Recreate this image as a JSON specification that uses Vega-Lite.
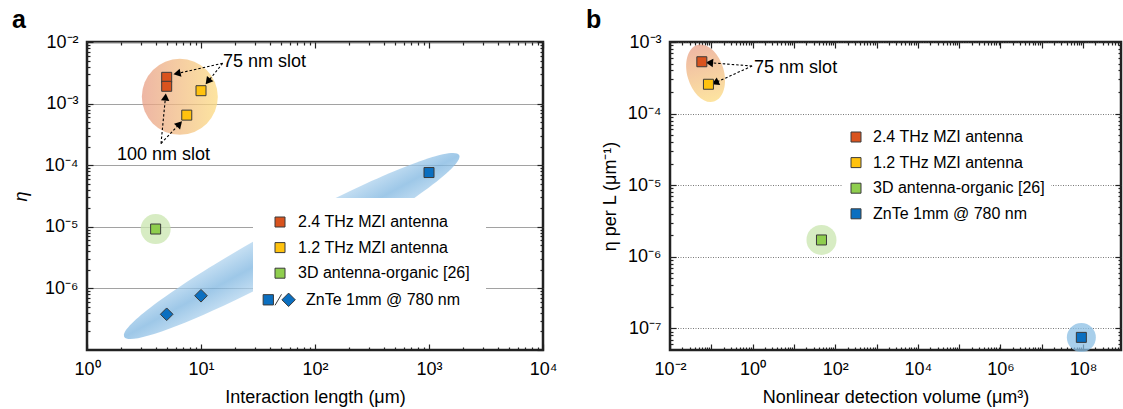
{
  "$schema": "https://vega.github.io/schema/vega-lite/v6.json",
  "padding": {"left": 10, "top": 6, "right": 0, "bottom": 0},
  "spacing": 25,
  "config": {
    "font": "Liberation Sans",
    "view": {"stroke": "#222222", "strokeWidth": 2.5},
    "axis": {"domain": false, "grid": false, "labelFontSize": 18, "labelColor": "#000000", "titleFontSize": 18, "titleFontWeight": "normal", "titleColor": "#000000", "tickColor": "#222222", "tickWidth": 1.2, "labelFlush": false, "labelOverlap": false, "labelBound": false},
    "legend": {"labelFontSize": 16, "labelColor": "#000000", "labelLimit": 400}
  },
  "datasets": {
    "a_pts": [
      {"series": "2.4 THz MZI antenna", "L": 5, "eta": 0.00267, "marker": "square"},
      {"series": "2.4 THz MZI antenna", "L": 5, "eta": 0.00191, "marker": "square"},
      {"series": "1.2 THz MZI antenna", "L": 10, "eta": 0.00162, "marker": "square"},
      {"series": "1.2 THz MZI antenna", "L": 7.5, "eta": 0.00065, "marker": "square"},
      {"series": "3D antenna-organic [26]", "L": 4, "eta": 9.2e-6, "marker": "square"},
      {"series": "ZnTe 1mm @ 780 nm", "L": 1000, "eta": 7.6e-5, "marker": "square"},
      {"series": "ZnTe 1mm @ 780 nm", "L": 5, "eta": 3.8e-7, "marker": "diamond"},
      {"series": "ZnTe 1mm @ 780 nm", "L": 10, "eta": 7.6e-7, "marker": "diamond"}
    ],
    "a_regions": [
      {"region": "MZI", "L": 6.52, "eta": 0.00129},
      {"region": "ZnTe", "L": 62.5, "eta": 4.88e-6},
      {"region": "organic", "L": 4, "eta": 9.2e-6}
    ],
    "a_arrows": [
      {"x": 15.5, "y": 0.00451, "x2": 6.16, "y2": 0.00308},
      {"x": 15.5, "y": 0.00451, "x2": 11.5, "y2": 0.00228},
      {"x": 4.46, "y": 0.000225, "x2": 4.88, "y2": 0.00128},
      {"x": 4.46, "y": 0.000225, "x2": 6.48, "y2": 0.000467}
    ],
    "a_text": [
      {"text": "75 nm slot", "x": 15.6, "y": 0.00479},
      {"text": "100 nm slot", "x": 1.83, "y": 0.000149}
    ],
    "b_pts": [
      {"series": "2.4 THz MZI antenna", "V": 0.059, "etaL": 0.00053},
      {"series": "1.2 THz MZI antenna", "V": 0.0853, "etaL": 0.000257},
      {"series": "3D antenna-organic [26]", "V": 46.5, "etaL": 1.72e-6},
      {"series": "ZnTe 1mm @ 780 nm", "V": 91000000, "etaL": 7.5e-8}
    ],
    "b_regions": [
      {"region": "MZI", "V": 0.0729, "etaL": 0.000366},
      {"region": "organic", "V": 46.5, "etaL": 1.72e-6},
      {"region": "ZnTe", "V": 91000000, "etaL": 7.5e-8}
    ],
    "b_arrows": [
      {"x": 0.973, "y": 0.000462, "x2": 0.0902, "y2": 0.000514},
      {"x": 0.973, "y": 0.000462, "x2": 0.124, "y2": 0.00027}
    ],
    "b_text": [
      {"text": "75 nm slot", "x": 1.086, "y": 0.000433}
    ]
  },
  "resolve": {"scale": {"fill": "independent"}, "legend": {"fill": "independent"}},
  "hconcat": [
    {
      "width": 456,
      "height": 308,
      "title": {"text": "a", "anchor": "start", "frame": "group", "fontSize": 25, "fontWeight": "bold", "dx": -75, "offset": -20, "baseline": "alphabetic", "color": "#000000"},
      "resolve": {"axis": {"x": "independent", "y": "independent"}},
      "layer": [
        {
          "data": {"name": "a_regions"},
          "transform": [{"filter": "datum.region === 'MZI'"}],
          "mark": {"type": "point", "shape": "circle", "size": 5776, "filled": true, "opacity": 1, "fillOpacity": 0.75, "strokeWidth": 0,
            "fill": {"gradient": "linear", "x1": 0, "y1": 0, "x2": 1, "y2": 0, "stops": [{"offset": 0, "color": "#e89e86"}, {"offset": 1, "color": "#fcdb80"}]}},
          "encoding": {
            "x": {"field": "L", "type": "quantitative", "scale": {"type": "log", "domain": [1, 10000], "nice": false},
              "axis": {"orient": "bottom", "values": [1, 10, 100, 1000, 10000], "tickSize": -6, "labelPadding": 16, "title": "Interaction length (μm)", "titlePadding": 10,
                "labelExpr": "'10' + replace(replace(replace(replace(replace(replace(replace(replace(replace(replace(replace('' + round(log(datum.value) / LN10), '-', '⁻'), '0', '⁰'), '1', '¹'), '2', '²'), '3', '³'), '4', '⁴'), '5', '⁵'), '6', '⁶'), '7', '⁷'), '8', '⁸'), '9', '⁹')"}},
            "y": {"field": "eta", "type": "quantitative", "scale": {"type": "log", "domain": [1e-7, 0.01], "nice": false},
              "axis": {"orient": "left", "values": [1e-6, 1e-5, 0.0001, 0.001, 0.01], "tickSize": -6, "labelPadding": 15, "grid": true, "gridColor": "#8a8a8a", "gridWidth": 0.8, "title": "η", "titleFontStyle": "italic", "titlePadding": 14,
                "labelExpr": "'10' + replace(replace(replace(replace(replace(replace(replace(replace(replace(replace(replace('' + round(log(datum.value) / LN10), '-', '⁻'), '0', '⁰'), '1', '¹'), '2', '²'), '3', '³'), '4', '⁴'), '5', '⁵'), '6', '⁶'), '7', '⁷'), '8', '⁸'), '9', '⁹')"}}
          }
        },
        {
          "data": {"name": "a_regions"},
          "transform": [{"filter": "datum.region === 'ZnTe'"}],
          "mark": {"type": "point", "shape": "M1,0C1,0.0652,0.5523,0.118,0,0.118C-0.5523,0.118,-1,0.0652,-1,0C-1,-0.0652,-0.5523,-0.118,0,-0.118C0.5523,-0.118,1,-0.0652,1,0Z",
            "size": 145161, "angle": -28.5, "filled": true, "opacity": 1, "fillOpacity": 0.75, "strokeWidth": 0,
            "fill": {"gradient": "linear", "x1": 0, "y1": 0, "x2": 0, "y2": 1, "stops": [{"offset": 0, "color": "#b3d5ef"}, {"offset": 0.5, "color": "#7db5e0"}, {"offset": 1, "color": "#b3d5ef"}]}},
          "encoding": {
            "x": {"field": "L", "type": "quantitative", "scale": {"type": "log", "domain": [1, 10000], "nice": false},
              "axis": {"orient": "bottom", "values": [2, 3, 4, 5, 6, 7, 8, 9, 20, 30, 40, 50, 60, 70, 80, 90, 200, 300, 400, 500, 600, 700, 800, 900, 2000, 3000, 4000, 5000, 6000, 7000, 8000, 9000], "tickSize": -3, "labels": false, "title": null}},
            "y": {"field": "eta", "type": "quantitative", "scale": {"type": "log", "domain": [1e-7, 0.01], "nice": false},
              "axis": {"orient": "left", "values": [2e-7, 3e-7, 4e-7, 5e-7, 6e-7, 7e-7, 8e-7, 9e-7, 2e-6, 3e-6, 4e-6, 5e-6, 6e-6, 7e-6, 8e-6, 9e-6, 2e-5, 3e-5, 4e-5, 5e-5, 6e-5, 7e-5, 8e-5, 9e-5, 0.0002, 0.0003, 0.0004, 0.0005, 0.0006, 0.0007, 0.0008, 0.0009, 0.002, 0.003, 0.004, 0.005, 0.006, 0.007, 0.008, 0.009], "tickSize": -3, "labels": false, "title": null}}
          }
        },
        {
          "data": {"name": "a_regions"},
          "transform": [{"filter": "datum.region === 'organic'"}],
          "mark": {"type": "point", "shape": "circle", "size": 900, "filled": true, "opacity": 1, "fill": "#c9e5af", "fillOpacity": 0.75, "strokeWidth": 0},
          "encoding": {
            "x": {"field": "L", "type": "quantitative", "scale": {"type": "log", "domain": [1, 10000], "nice": false},
              "axis": {"orient": "top", "values": [1, 10, 100, 1000, 10000], "tickSize": -6, "labels": false, "title": null}},
            "y": {"field": "eta", "type": "quantitative", "scale": {"type": "log", "domain": [1e-7, 0.01], "nice": false},
              "axis": {"orient": "right", "values": [1e-7, 1e-6, 1e-5, 0.0001, 0.001, 0.01], "tickSize": -6, "labels": false, "title": null}}
          }
        },
        {
          "data": {"name": "a_arrows"},
          "mark": {"type": "rule", "color": "#000000", "strokeWidth": 1.1, "strokeDash": [2.5, 2]},
          "encoding": {
            "x": {"field": "x", "type": "quantitative", "scale": {"type": "log", "domain": [1, 10000], "nice": false},
              "axis": {"orient": "top", "values": [2, 3, 4, 5, 6, 7, 8, 9, 20, 30, 40, 50, 60, 70, 80, 90, 200, 300, 400, 500, 600, 700, 800, 900, 2000, 3000, 4000, 5000, 6000, 7000, 8000, 9000], "tickSize": -3, "labels": false, "title": null}},
            "y": {"field": "y", "type": "quantitative", "scale": {"type": "log", "domain": [1e-7, 0.01], "nice": false},
              "axis": {"orient": "right", "values": [2e-7, 3e-7, 4e-7, 5e-7, 6e-7, 7e-7, 8e-7, 9e-7, 2e-6, 3e-6, 4e-6, 5e-6, 6e-6, 7e-6, 8e-6, 9e-6, 2e-5, 3e-5, 4e-5, 5e-5, 6e-5, 7e-5, 8e-5, 9e-5, 0.0002, 0.0003, 0.0004, 0.0005, 0.0006, 0.0007, 0.0008, 0.0009, 0.002, 0.003, 0.004, 0.005, 0.006, 0.007, 0.008, 0.009], "tickSize": -3, "labels": false, "title": null}},
            "x2": {"field": "x2"},
            "y2": {"field": "y2"}
          }
        },
        {
          "data": {"name": "a_arrows"},
          "mark": {"type": "point", "shape": "triangle-right", "size": 70, "filled": true, "opacity": 1, "fill": "#000000", "strokeWidth": 0,
            "angle": {"expr": "atan2(scale('concat_0_y', datum.y2) - scale('concat_0_y', datum.y), scale('concat_0_x', datum.x2) - scale('concat_0_x', datum.x)) * 180 / PI"}},
          "encoding": {
            "x": {"field": "x2", "type": "quantitative", "scale": {"type": "log", "domain": [1, 10000], "nice": false}, "axis": null},
            "y": {"field": "y2", "type": "quantitative", "scale": {"type": "log", "domain": [1e-7, 0.01], "nice": false}, "axis": null}
          }
        },
        {
          "data": {"name": "a_text"},
          "mark": {"type": "text", "fontSize": 18, "align": "left", "baseline": "middle", "color": "#000000"},
          "encoding": {
            "x": {"field": "x", "type": "quantitative", "scale": {"type": "log", "domain": [1, 10000], "nice": false}, "axis": null},
            "y": {"field": "y", "type": "quantitative", "scale": {"type": "log", "domain": [1e-7, 0.01], "nice": false}, "axis": null},
            "text": {"field": "text"}
          }
        },
        {
          "data": {"name": "a_pts"},
          "transform": [{"filter": "datum.marker === 'square'"}],
          "mark": {"type": "point", "shape": "square", "size": 100, "filled": true, "opacity": 1, "stroke": "#3a3a3a", "strokeWidth": 1},
          "encoding": {
            "x": {"field": "L", "type": "quantitative", "scale": {"type": "log", "domain": [1, 10000], "nice": false}, "axis": null},
            "y": {"field": "eta", "type": "quantitative", "scale": {"type": "log", "domain": [1e-7, 0.01], "nice": false}, "axis": null},
            "fill": {"field": "series", "type": "nominal",
              "scale": {"domain": ["2.4 THz MZI antenna", "1.2 THz MZI antenna", "3D antenna-organic [26]", "ZnTe 1mm @ 780 nm"], "range": ["#d9531e", "#ffc20e", "#8fce4e", "#0b6fc0"]},
              "legend": {"orient": "none", "legendX": 166, "legendY": 156, "title": "\u2003\u2003\u2003", "titleOrient": "right", "titlePadding": 0, "titleFontSize": 14, "fillColor": "#ffffff", "padding": 16, "symbolOffset": 3, "symbolType": "square", "symbolSize": 100, "symbolStrokeColor": "#3a3a3a", "symbolStrokeWidth": 1, "symbolOpacity": 1, "labelFontSize": 16, "labelOffset": 10, "rowPadding": 9.6,
                "encode": {
                  "symbols": {"update": {"shape": {"signal": "datum.value === 'ZnTe 1mm @ 780 nm' ? 'M-3.37,-1.03L-1.31,-1.03L-1.31,1.03L-3.37,1.03Z M-1,1.1L0.3,-1.1 M1.72,-1.34L3.06,0L1.72,1.34L0.38,0Z' : 'square'"}}},
                  "labels": {"update": {"dx": {"signal": "datum.value === 'ZnTe 1mm @ 780 nm' ? 8 : 0"}}}
                }}}
          }
        },
        {
          "data": {"name": "a_pts"},
          "transform": [{"filter": "datum.marker === 'diamond'"}],
          "mark": {"type": "point", "shape": "diamond", "size": 160, "filled": true, "opacity": 1, "stroke": "#3a3a3a", "strokeWidth": 1},
          "encoding": {
            "x": {"field": "L", "type": "quantitative", "scale": {"type": "log", "domain": [1, 10000], "nice": false}, "axis": null},
            "y": {"field": "eta", "type": "quantitative", "scale": {"type": "log", "domain": [1e-7, 0.01], "nice": false}, "axis": null},
            "fill": {"field": "series", "type": "nominal",
              "scale": {"domain": ["2.4 THz MZI antenna", "1.2 THz MZI antenna", "3D antenna-organic [26]", "ZnTe 1mm @ 780 nm"], "range": ["#d9531e", "#ffc20e", "#8fce4e", "#0b6fc0"]}}
          }
        }
      ]
    },
    {
      "width": 451,
      "height": 308,
      "title": {"text": "b", "anchor": "start", "frame": "group", "fontSize": 25, "fontWeight": "bold", "dx": -84, "offset": -20, "baseline": "alphabetic", "color": "#000000"},
      "resolve": {"axis": {"x": "independent", "y": "independent"}},
      "layer": [
        {
          "data": {"name": "b_regions"},
          "transform": [{"filter": "datum.region === 'MZI'"}],
          "mark": {"type": "point", "shape": "M1,0C1,0.3424,0.5523,0.62,0,0.62C-0.5523,0.62,-1,0.3424,-1,0C-1,-0.3424,-0.5523,-0.62,0,-0.62C0.5523,-0.62,1,-0.3424,1,0Z",
            "size": 3481, "angle": 73.6, "filled": true, "opacity": 1, "fillOpacity": 0.75, "strokeWidth": 0,
            "fill": {"gradient": "linear", "x1": 0, "y1": 0, "x2": 1, "y2": 0, "stops": [{"offset": 0, "color": "#e89e86"}, {"offset": 1, "color": "#fcdb80"}]}},
          "encoding": {
            "x": {"field": "V", "type": "quantitative", "scale": {"type": "log", "domain": [0.01, 830000000], "nice": false},
              "axis": {"orient": "bottom", "values": [0.01, 0.1, 1, 10, 100, 1000, 10000, 100000, 1000000, 10000000, 100000000], "tickSize": -6, "labelPadding": 16, "title": "Nonlinear detection volume (μm³)", "titlePadding": 10,
                "labelExpr": "round(log(datum.value) / LN10) % 2 == 0 ? '10' + replace(replace(replace(replace(replace(replace(replace(replace(replace(replace(replace('' + round(log(datum.value) / LN10), '-', '⁻'), '0', '⁰'), '1', '¹'), '2', '²'), '3', '³'), '4', '⁴'), '5', '⁵'), '6', '⁶'), '7', '⁷'), '8', '⁸'), '9', '⁹') : ''"}},
            "y": {"field": "etaL", "type": "quantitative", "scale": {"type": "log", "domain": [5e-8, 0.001], "nice": false},
              "axis": {"orient": "left", "values": [1e-7, 1e-6, 1e-5, 0.0001, 0.001], "tickSize": -6, "labelPadding": 15, "grid": true, "gridColor": "#555555", "gridWidth": 0.8, "gridDash": [1, 1.5], "title": "η per L (μm⁻¹)", "titlePadding": 8,
                "labelExpr": "'10' + replace(replace(replace(replace(replace(replace(replace(replace(replace(replace(replace('' + round(log(datum.value) / LN10), '-', '⁻'), '0', '⁰'), '1', '¹'), '2', '²'), '3', '³'), '4', '⁴'), '5', '⁵'), '6', '⁶'), '7', '⁷'), '8', '⁸'), '9', '⁹')"}}
          }
        },
        {
          "data": {"name": "b_regions"},
          "transform": [{"filter": "datum.region === 'organic'"}],
          "mark": {"type": "point", "shape": "circle", "size": 900, "filled": true, "opacity": 1, "fill": "#c9e5af", "fillOpacity": 0.75, "strokeWidth": 0},
          "encoding": {
            "x": {"field": "V", "type": "quantitative", "scale": {"type": "log", "domain": [0.01, 830000000], "nice": false},
              "axis": {"orient": "bottom", "values": [0.02, 0.03, 0.04, 0.05, 0.06, 0.07, 0.08, 0.09, 0.2, 0.3, 0.4, 0.5, 0.6, 0.7, 0.8, 0.9, 2, 3, 4, 5, 6, 7, 8, 9, 20, 30, 40, 50, 60, 70, 80, 90, 200, 300, 400, 500, 600, 700, 800, 900, 2000, 3000, 4000, 5000, 6000, 7000, 8000, 9000, 20000, 30000, 40000, 50000, 60000, 70000, 80000, 90000, 200000, 300000, 400000, 500000, 600000, 700000, 800000, 900000, 2000000, 3000000, 4000000, 5000000, 6000000, 7000000, 8000000, 9000000, 20000000, 30000000, 40000000, 50000000, 60000000, 70000000, 80000000, 90000000, 200000000, 300000000, 400000000, 500000000, 600000000, 700000000, 800000000], "tickSize": -3, "labels": false, "title": null}},
            "y": {"field": "etaL", "type": "quantitative", "scale": {"type": "log", "domain": [5e-8, 0.001], "nice": false},
              "axis": {"orient": "left", "values": [6e-8, 7e-8, 8e-8, 9e-8, 2e-7, 3e-7, 4e-7, 5e-7, 6e-7, 7e-7, 8e-7, 9e-7, 2e-6, 3e-6, 4e-6, 5e-6, 6e-6, 7e-6, 8e-6, 9e-6, 2e-5, 3e-5, 4e-5, 5e-5, 6e-5, 7e-5, 8e-5, 9e-5, 0.0002, 0.0003, 0.0004, 0.0005, 0.0006, 0.0007, 0.0008, 0.0009], "tickSize": -3, "labels": false, "title": null}}
          }
        },
        {
          "data": {"name": "b_regions"},
          "transform": [{"filter": "datum.region === 'ZnTe'"}],
          "mark": {"type": "point", "shape": "circle", "size": 841, "filled": true, "opacity": 1, "fill": "#8bbfe4", "fillOpacity": 0.75, "strokeWidth": 0},
          "encoding": {
            "x": {"field": "V", "type": "quantitative", "scale": {"type": "log", "domain": [0.01, 830000000], "nice": false},
              "axis": {"orient": "top", "values": [0.01, 0.1, 1, 10, 100, 1000, 10000, 100000, 1000000, 10000000, 100000000], "tickSize": -6, "labels": false, "title": null}},
            "y": {"field": "etaL", "type": "quantitative", "scale": {"type": "log", "domain": [5e-8, 0.001], "nice": false},
              "axis": {"orient": "right", "values": [1e-7, 1e-6, 1e-5, 0.0001, 0.001], "tickSize": -6, "labels": false, "title": null}}
          }
        },
        {
          "data": {"name": "b_arrows"},
          "mark": {"type": "rule", "color": "#000000", "strokeWidth": 1.1, "strokeDash": [2.5, 2]},
          "encoding": {
            "x": {"field": "x", "type": "quantitative", "scale": {"type": "log", "domain": [0.01, 830000000], "nice": false},
              "axis": {"orient": "top", "values": [0.02, 0.03, 0.04, 0.05, 0.06, 0.07, 0.08, 0.09, 0.2, 0.3, 0.4, 0.5, 0.6, 0.7, 0.8, 0.9, 2, 3, 4, 5, 6, 7, 8, 9, 20, 30, 40, 50, 60, 70, 80, 90, 200, 300, 400, 500, 600, 700, 800, 900, 2000, 3000, 4000, 5000, 6000, 7000, 8000, 9000, 20000, 30000, 40000, 50000, 60000, 70000, 80000, 90000, 200000, 300000, 400000, 500000, 600000, 700000, 800000, 900000, 2000000, 3000000, 4000000, 5000000, 6000000, 7000000, 8000000, 9000000, 20000000, 30000000, 40000000, 50000000, 60000000, 70000000, 80000000, 90000000, 200000000, 300000000, 400000000, 500000000, 600000000, 700000000, 800000000], "tickSize": -3, "labels": false, "title": null}},
            "y": {"field": "y", "type": "quantitative", "scale": {"type": "log", "domain": [5e-8, 0.001], "nice": false},
              "axis": {"orient": "right", "values": [6e-8, 7e-8, 8e-8, 9e-8, 2e-7, 3e-7, 4e-7, 5e-7, 6e-7, 7e-7, 8e-7, 9e-7, 2e-6, 3e-6, 4e-6, 5e-6, 6e-6, 7e-6, 8e-6, 9e-6, 2e-5, 3e-5, 4e-5, 5e-5, 6e-5, 7e-5, 8e-5, 9e-5, 0.0002, 0.0003, 0.0004, 0.0005, 0.0006, 0.0007, 0.0008, 0.0009], "tickSize": -3, "labels": false, "title": null}},
            "x2": {"field": "x2"},
            "y2": {"field": "y2"}
          }
        },
        {
          "data": {"name": "b_arrows"},
          "mark": {"type": "point", "shape": "triangle-right", "size": 70, "filled": true, "opacity": 1, "fill": "#000000", "strokeWidth": 0,
            "angle": {"expr": "atan2(scale('concat_1_y', datum.y2) - scale('concat_1_y', datum.y), scale('concat_1_x', datum.x2) - scale('concat_1_x', datum.x)) * 180 / PI"}},
          "encoding": {
            "x": {"field": "x2", "type": "quantitative", "scale": {"type": "log", "domain": [0.01, 830000000], "nice": false}, "axis": null},
            "y": {"field": "y2", "type": "quantitative", "scale": {"type": "log", "domain": [5e-8, 0.001], "nice": false}, "axis": null}
          }
        },
        {
          "data": {"name": "b_text"},
          "mark": {"type": "text", "fontSize": 18, "align": "left", "baseline": "middle", "color": "#000000"},
          "encoding": {
            "x": {"field": "x", "type": "quantitative", "scale": {"type": "log", "domain": [0.01, 830000000], "nice": false}, "axis": null},
            "y": {"field": "y", "type": "quantitative", "scale": {"type": "log", "domain": [5e-8, 0.001], "nice": false}, "axis": null},
            "text": {"field": "text"}
          }
        },
        {
          "data": {"name": "b_pts"},
          "mark": {"type": "point", "shape": "square", "size": 100, "filled": true, "opacity": 1, "stroke": "#3a3a3a", "strokeWidth": 1},
          "encoding": {
            "x": {"field": "V", "type": "quantitative", "scale": {"type": "log", "domain": [0.01, 830000000], "nice": false}, "axis": null},
            "y": {"field": "etaL", "type": "quantitative", "scale": {"type": "log", "domain": [5e-8, 0.001], "nice": false}, "axis": null},
            "fill": {"field": "series", "type": "nominal",
              "scale": {"domain": ["2.4 THz MZI antenna", "1.2 THz MZI antenna", "3D antenna-organic [26]", "ZnTe 1mm @ 780 nm"], "range": ["#d9531e", "#ffc20e", "#8fce4e", "#0b6fc0"]},
              "legend": {"orient": "none", "legendX": 172, "legendY": 81, "title": null, "fillColor": "#ffffff", "padding": 6, "symbolType": "square", "symbolSize": 100, "symbolStrokeColor": "#3a3a3a", "symbolStrokeWidth": 1, "symbolOpacity": 1, "labelFontSize": 16, "labelOffset": 9, "rowPadding": 9.6}}
          }
        }
      ]
    }
  ]
}
